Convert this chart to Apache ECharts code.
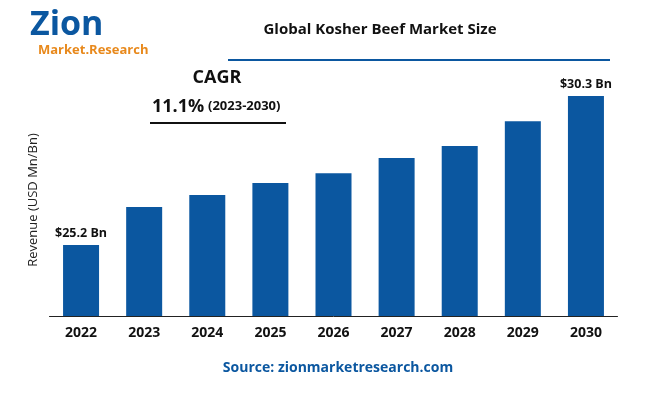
<!DOCTYPE html>
<html><head><meta charset="utf-8">
<script src="https://cdn.jsdelivr.net/npm/echarts@6/dist/echarts.min.js"></script>
<style>html,body{margin:0;padding:0;background:#fff}#c{width:650px;height:400px}</style>
</head><body><div id="c"></div>
<script>
const categories = ['2022','2023','2024','2025','2026','2027','2028','2029','2030'];
const revenue = [25.2, 26.5, 26.91, 27.32, 27.66, 28.18, 28.59, 29.44, 30.3];
const barLabels = {0:'$25.2 Bn', 8:'$30.3 Bn'};
const chart = echarts.init(document.getElementById('c'));
chart.setOption({
  backgroundColor:'#fff',
  grid:{left:49.5,right:32.5,top:96,bottom:84},
  xAxis:{type:'category',data:categories,
    axisLine:{lineStyle:{color:'#222',width:1}},axisTick:{show:false},
    axisLabel:{color:'#111',fontWeight:'bold',fontSize:14,fontFamily:'Open Sans',margin:10}},
  yAxis:{type:'value',min:22.77,max:30.3,show:false},
  series:[{type:'bar',data:revenue,barWidth:36,itemStyle:{color:'#0b57a0'},
    label:{show:true,position:'top',fontWeight:'bold',fontSize:12.5,color:'#111',fontFamily:'Open Sans',
      formatter:p=>barLabels[p.dataIndex]||''}}],
  graphic:[
    {type:'text',left:'center',top:0,style:{text:''}},
    {type:'text',x:30,y:8,style:{text:'Zion',font:'bold 34px Open Sans',fill:'#0b57a0'}},
    {type:'text',x:38,y:44,style:{text:'Market.Research',font:'bold 13px Open Sans',fill:'#e8891c'}},
    {type:'text',x:380,y:30,style:{text:'Global Kosher Beef Market Size',font:'bold 15px Open Sans',fill:'#111',align:'center',verticalAlign:'middle'}},
    {type:'line',shape:{x1:228,y1:60,x2:610,y2:60},style:{stroke:'#0b57a0',lineWidth:2}},
    {type:'text',x:217,y:78,style:{text:'CAGR',font:'bold 18px Open Sans',fill:'#111',align:'center',verticalAlign:'middle'}},
    {type:'text',x:152,y:107,style:{text:'11.1%',font:'bold 18px Open Sans',fill:'#111',verticalAlign:'middle'}},
    {type:'text',x:208,y:106,style:{text:'(2023-2030)',font:'bold 13px Open Sans',fill:'#111',verticalAlign:'middle'}},
    {type:'line',shape:{x1:150,y1:123,x2:286,y2:123},style:{stroke:'#111',lineWidth:2}},
    {type:'text',x:33,y:200,rotation:Math.PI/2,style:{text:'Revenue (USD Mn/Bn)',font:'13px Open Sans',fill:'#222',align:'center',verticalAlign:'middle'}},
    {type:'text',x:338,y:368,style:{text:'Source: zionmarketresearch.com',font:'bold 14px Open Sans',fill:'#0b57a0',align:'center',verticalAlign:'middle'}}
  ]
});
</script></body></html>
